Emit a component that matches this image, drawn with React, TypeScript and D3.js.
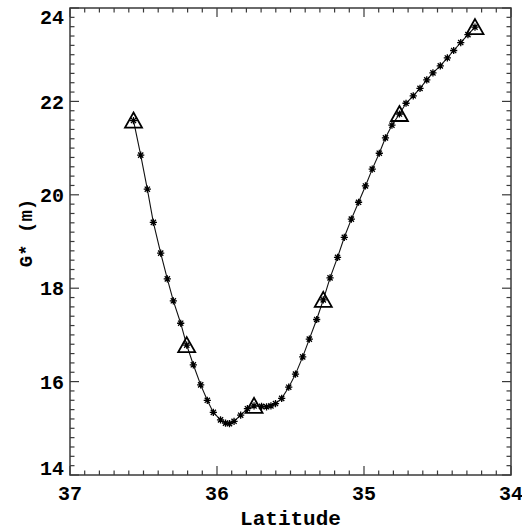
import { useRef, useEffect } from "react";
import * as d3 from "d3";

const latitude = [
  36.568, 36.519, 36.474, 36.433, 36.383, 36.338, 36.297, 36.247, 36.206, 36.161,
  36.111, 36.066, 36.025, 35.976, 35.942, 35.915, 35.884, 35.839, 35.793, 35.748,
  35.697, 35.663, 35.633, 35.602, 35.56, 35.512, 35.466, 35.417, 35.372, 35.322,
  35.277, 35.231, 35.18, 35.134, 35.086, 35.037, 34.99, 34.944, 34.896, 34.854,
  34.81, 34.759, 34.714, 34.665, 34.619, 34.573, 34.531, 34.481, 34.433, 34.39,
  34.342, 34.293, 34.245,
];
const gStar = [
  21.59, 20.85, 20.12, 19.41, 18.75, 18.2, 17.73, 17.25, 16.78, 16.36,
  15.93, 15.6, 15.34, 15.18, 15.11, 15.1, 15.15, 15.28, 15.42, 15.48,
  15.47, 15.46, 15.48, 15.53, 15.64, 15.88, 16.16, 16.53, 16.91, 17.33,
  17.75, 18.22, 18.66, 19.09, 19.48, 19.84, 20.19, 20.55, 20.89, 21.22,
  21.49, 21.73, 21.96, 22.12, 22.28, 22.46, 22.61, 22.76, 22.93, 23.09,
  23.26, 23.43, 23.59,
];
// points that also carry a triangle
const triangleIdx = [0, 8, 19, 30, 41, 52];
const xTicks = [37, 36, 35, 34];
const yTicks = [14, 16, 18, 20, 22, 24];

const W = 522;
const H = 531;
const left = 70, right = 511, top = 8, bottom = 475;
const font = "'Liberation Mono', 'DejaVu Sans Mono', monospace";
const axisColor = "#3a3a3a";

const star = (r: number) => {
  const d = r * 0.72;
  return `M${-r},0H${r}M0,${-r}V${r}M${-d},${-d}L${d},${d}M${-d},${d}L${d},${-d}`;
};
const triangle = "M0,-8L8.5,7L-8.5,7Z";

function App() {
  const svgRef = useRef<SVGSVGElement>(null);

  useEffect(() => {
    const svg = d3.select(svgRef.current);
    svg.selectAll("*").remove();

    const x = d3.scaleLinear().domain([37, 34]).range([left, right]);
    const y = d3.scaleLinear().domain([14, 24]).range([bottom, top]);

    // frame
    svg
      .append("rect")
      .attr("x", left)
      .attr("y", top)
      .attr("width", right - left)
      .attr("height", bottom - top)
      .attr("fill", "none")
      .attr("stroke", axisColor)
      .attr("stroke-width", 1.5);

    const ticks = svg.append("g").attr("stroke", axisColor).attr("stroke-width", 1.2);
    const xMinor = x.ticks(30);
    xMinor.forEach((v) => {
      const major = Math.abs(v - Math.round(v)) < 1e-6;
      const len = major ? 9 : 4.5;
      ticks.append("line").attr("x1", x(v)).attr("x2", x(v)).attr("y1", bottom).attr("y2", bottom - len);
      ticks.append("line").attr("x1", x(v)).attr("x2", x(v)).attr("y1", top).attr("y2", top + len);
    });
    const yMinor = y.ticks(50);
    yMinor.forEach((v) => {
      const major = Math.abs(v / 2 - Math.round(v / 2)) < 1e-6;
      const len = major ? 9 : 4.5;
      ticks.append("line").attr("y1", y(v)).attr("y2", y(v)).attr("x1", left).attr("x2", left + len);
      ticks.append("line").attr("y1", y(v)).attr("y2", y(v)).attr("x1", right).attr("x2", right - len);
    });

    // tick labels
    svg
      .append("g")
      .selectAll("text")
      .data(xTicks)
      .join("text")
      .attr("x", (d) => x(d))
      .attr("y", 500)
      .attr("text-anchor", "middle")
      .attr("font-family", font)
      .attr("font-weight", "bold")
      .attr("font-size", 20)
      .text((d) => d);

    svg
      .append("g")
      .selectAll("text")
      .data(yTicks)
      .join("text")
      .attr("x", 64)
      .attr("y", (d) => Math.min(Math.max(y(d), 17), 468))
      .attr("dy", "0.36em")
      .attr("text-anchor", "end")
      .attr("font-family", font)
      .attr("font-weight", "bold")
      .attr("font-size", 20)
      .text((d) => d);

    // axis titles
    svg
      .append("text")
      .attr("x", (left + right) / 2)
      .attr("y", 525)
      .attr("text-anchor", "middle")
      .attr("font-family", font)
      .attr("font-weight", "bold")
      .attr("font-size", 21)
      .text("Latitude");

    svg
      .append("text")
      .attr("transform", `translate(32,233) rotate(-90)`)
      .attr("text-anchor", "middle")
      .attr("font-family", font)
      .attr("font-weight", "bold")
      .attr("font-size", 19)
      .text("G* (m)");

    const pts = latitude.map((lat, i) => [lat, gStar[i]] as [number, number]);

    const line = d3
      .line<[number, number]>()
      .x((d) => x(d[0]))
      .y((d) => y(d[1]));

    svg
      .append("path")
      .attr("d", line(pts))
      .attr("fill", "none")
      .attr("stroke", "#111")
      .attr("stroke-width", 1.1);

    svg
      .append("g")
      .selectAll("path")
      .data(pts)
      .join("path")
      .attr("transform", (d) => `translate(${x(d[0])},${y(d[1])})`)
      .attr("d", star(3.6))
      .attr("fill", "none")
      .attr("stroke", "#000")
      .attr("stroke-width", 1.3);

    svg
      .append("g")
      .selectAll("path")
      .data(triangleIdx.map((i) => pts[i]))
      .join("path")
      .attr("transform", (d) => `translate(${x(d[0])},${y(d[1])})`)
      .attr("d", triangle)
      .attr("fill", "none")
      .attr("stroke", "#000")
      .attr("stroke-width", 1.8)
      .attr("stroke-linejoin", "miter");
  }, []);

  return (
    <svg
      ref={svgRef}
      width={W}
      height={H}
      style={{ position: "absolute", left: 0, top: 0, background: "#fff" }}
    />
  );
}

export default App;
